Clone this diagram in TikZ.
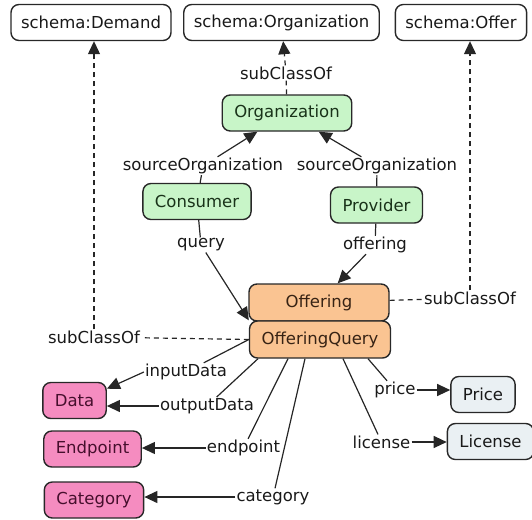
\documentclass[tikz,border=0pt]{standalone}
\usepackage{fontspec}
\setmainfont{DejaVu Sans}
\usetikzlibrary{arrows.meta}
\definecolor{orgfill}{RGB}{200,245,200}
\definecolor{orgtext}{RGB}{25,50,25}
\definecolor{offfill}{RGB}{250,196,146}
\definecolor{offtext}{RGB}{55,35,20}
\definecolor{datafill}{RGB}{245,140,192}
\definecolor{datatext}{RGB}{70,15,45}
\definecolor{termfill}{RGB}{234,240,243}
\definecolor{edge}{RGB}{40,40,40}
\begin{document}
\begin{tikzpicture}[x=1pt, y=-1pt,
		every node/.style = {font=\fontsize{16.5}{19}\selectfont, text=black!90},
		concept/.style = {draw=edge, rounded corners=8pt, line width=1.4pt, inner xsep=12pt, minimum height=36pt},
		schemabox/.style = {concept, fill=white, inner xsep=10pt},
		orgbox/.style = {concept, fill=orgfill, text=orgtext},
		offbox/.style = {concept, fill=offfill, text=offtext, minimum height=37pt, minimum width=140pt},
		databox/.style = {concept, fill=datafill, text=datatext},
		termbox/.style = {concept, fill=termfill},
		rel/.style = {inner sep=1pt},
		link/.style = {line width=1.2pt, draw=black!85},
		arr/.style = {link, -{Triangle[length=13pt, width=12pt]}},
		sub/.style = {link, dash pattern=on 5pt off 4pt},
	]
	\path[use as bounding box] (0,0) rectangle (532,519);
	% schema.org classes
	\node[schemabox] (demand) at (91,22.5) {schema:Demand};
	\node[schemabox] (sorg) at (281.5,22.5) {schema:Organization};
	\node[schemabox] (offer) at (461,22.5) {schema:Offer};
	% organizations
	\node[orgbox] (org) at (287,113) {Organization};
	\node[orgbox] (cons) at (197,201.5) {Consumer};
	\node[orgbox] (prov) at (376.5,205) {Provider};
	% offerings
	\node[offbox] (offering) at (319,302.5) {Offering};
	\node[offbox] (oq) at (320,339.5) {OfferingQuery};
	% ranges
	\node[databox] (data) at (74.5,400.5) {Data};
	\node[databox] (endp) at (92.5,449) {Endpoint};
	\node[databox] (cat) at (94,500) {Category};
	\node[termbox] (price) at (483,394.5) {Price};
	\node[termbox] (lic) at (490.5,441.5) {License};
	% relation labels
	\node[rel] (scTop) at (286,73) {subClassOf};
	\node[rel] (srcL) at (203,166) {sourceOrganization};
	\node[rel] (srcR) at (377,166) {sourceOrganization};
	\node[rel] (query) at (201,245) {query};
	\node[rel] (offl) at (375,245) {offering};
	\node[rel] (scR) at (470,298) {subClassOf};
	\node[rel] (scL) at (94,337) {subClassOf};
	\node[rel] (inData) at (186,372) {inputData};
	\node[rel] (outData) at (207,406) {outputData};
	\node[rel] (endl) at (243.5,448) {endpoint};
	\node[rel] (catl) at (273,497) {category};
	\node[rel] (pricel) at (395,390) {price};
	\node[rel] (licl) at (381.5,442) {license};
	% subclass links
	\draw[sub] (org) -- (scTop);
	\draw[sub, -{Triangle[length=13pt, width=12pt]}] (scTop) -- (sorg);
	\draw[sub] (offering) -- (scR);
	\draw[sub, -{Triangle[length=13pt, width=12pt]}] (scR) -- (scR |- offer.south);
	\draw[sub] (oq.west) -- (scL);
	\draw[sub, -{Triangle[length=13pt, width=12pt]}] (scL) -- (scL |- demand.south);
	% organization links
	\draw[link] (cons) -- (srcL);
	\draw[arr] (srcL) -- (org);
	\draw[link] (prov) -- (srcR);
	\draw[arr] (srcR) -- (org);
	\draw[link] (cons) -- (query);
	\draw[arr] (query) -- (oq.north west);
	\draw[link] (prov) -- (offl);
	\draw[arr] (offl) -- (offering);
	% query properties
	\draw[link] (oq.west) -- (inData);
	\draw[arr] (inData.west) -- (data.20);
	\draw[link] ([xshift=-62pt]oq.south) -- (outData);
	\draw[arr] (outData) -- (outData -| data.east);
	\draw[link] ([xshift=-32pt]oq.south) -- (endl);
	\draw[arr] (endl) -- (endl -| endp.east);
	\draw[link] ([xshift=-15pt]oq.south) -- (catl);
	\draw[arr] (catl) -- (catl -| cat.east);
	\draw[link] ([xshift=23pt]oq.south) -- (licl);
	\draw[arr] (licl) -- (licl -| lic.west);
	\draw[link] ([xshift=48pt]oq.south) -- (pricel);
	\draw[arr] (pricel) -- (pricel -| price.west);
\end{tikzpicture}
\end{document}
